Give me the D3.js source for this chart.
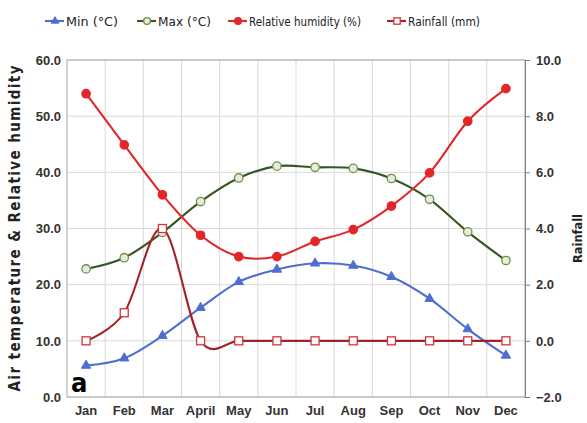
<!DOCTYPE html>
<html>
<head>
<meta charset="utf-8">
<script src="https://cdn.jsdelivr.net/npm/d3@7"></script>
<style>
    body { margin: 0; background: #fff; }
    svg { display: block; font-family: "Liberation Sans Narrow", "DejaVu Sans Condensed", "Liberation Sans", sans-serif; }
    .tick text { fill: #333; font-weight: bold; }
    .grid line { stroke: #d9d9d9; stroke-width: 1; }
</style>
</head>
<body>
<div id="chart"></div>
<script>
// values
let months = ["Jan", "Feb", "Mar", "April", "May", "Jun", "Jul", "Aug", "Sep", "Oct", "Nov", "Dec"];
let minTemp = [5.6, 6.9, 10.9, 15.9, 20.5, 22.7, 23.8, 23.4, 21.4, 17.5, 12.1, 7.4];
let maxTemp = [22.8, 24.8, 29.3, 34.8, 39.0, 41.1, 40.9, 40.7, 38.9, 35.2, 29.4, 24.3];
let humidity = [54.0, 44.9, 36.0, 28.8, 25.0, 25.0, 27.7, 29.8, 34.0, 39.9, 49.1, 54.9];
let rainfall = [0, 1.0, 4.0, 0, 0, 0, 0, 0, 0, 0, 0, 0];

let leftTicks = [0, 10, 20, 30, 40, 50, 60];
let rightTicks = [-2, 0, 2, 4, 6, 8, 10];

let WIDTH = 587, HEIGHT = 423;
let margin = { top: 60, right: 62, bottom: 26, left: 67 };
let innerW = WIDTH - margin.left - margin.right;
let innerH = HEIGHT - margin.top - margin.bottom;

let svg = d3.select("#chart").append("svg")
    .attr("width", WIDTH)
    .attr("height", HEIGHT);

let g = svg.append("g").attr("transform", `translate(${margin.left},${margin.top})`);

let x = d3.scaleBand().domain(months).range([0, innerW]);
let yLeft = d3.scaleLinear().domain([0, 60]).range([innerH, 0]);
let yRight = d3.scaleLinear().domain([-2, 10]).range([innerH, 0]);
let cx = m => x(m) + x.bandwidth() / 2;

// gridlines
let grid = g.append("g").attr("class", "grid");
grid.selectAll("line.h").data(leftTicks).join("line")
    .attr("x1", 0).attr("x2", innerW)
    .attr("y1", d => yLeft(d)).attr("y2", d => yLeft(d));
grid.selectAll("line.v").data(months.slice(1)).join("line")
    .attr("x1", d => x(d)).attr("x2", d => x(d))
    .attr("y1", 0).attr("y2", innerH);

// frame
g.append("rect")
    .attr("width", innerW).attr("height", innerH)
    .attr("fill", "none").attr("stroke", "#a6a6a6");

// axes
let leftAxis = g.append("g")
    .call(d3.axisLeft(yLeft).tickValues(leftTicks).tickFormat(d3.format(".1f")).tickSize(0).tickPadding(6));
leftAxis.select(".domain").remove();
leftAxis.selectAll("text").attr("font-size", 13);

let rightAxis = g.append("g").attr("transform", `translate(${innerW},0)`)
    .call(d3.axisRight(yRight).tickValues(rightTicks).tickFormat(d3.format(".1f")).tickSize(5).tickPadding(6));
rightAxis.select(".domain").attr("stroke", "#7f7f7f");
rightAxis.selectAll(".tick line").attr("stroke", "#7f7f7f");
rightAxis.selectAll("text").attr("font-size", 13);

let bottomAxis = g.append("g").attr("transform", `translate(0,${innerH})`)
    .call(d3.axisBottom(x).tickSize(0).tickPadding(9));
bottomAxis.select(".domain").remove();
bottomAxis.selectAll("text").attr("font-size", 13);

// axis titles
svg.append("text")
    .attr("transform", `translate(20,${margin.top + innerH / 2}) rotate(-90)`)
    .attr("text-anchor", "middle")
    .attr("font-size", 15).attr("font-weight", "bold").attr("fill", "#222")
    .attr("textLength", 326).attr("lengthAdjust", "spacing")
    .text("Air temperature & Relative humidity");

svg.append("text")
    .attr("transform", `translate(582,${margin.top + innerH / 2 + 10}) rotate(-90)`)
    .attr("text-anchor", "middle")
    .attr("font-size", 13).attr("font-weight", "bold").attr("fill", "#222")
    .attr("textLength", 49).attr("lengthAdjust", "spacingAndGlyphs")
    .text("Rainfall");

// panel letter
g.append("text")
    .attr("x", 4).attr("y", innerH - 5)
    .attr("font-size", 27).attr("font-weight", "bold").attr("fill", "#000")
    .text("a");

// series
let series = [
    { name: "Min (°C)", values: minTemp, scale: yLeft, color: "#4f6fd0", marker: "triangle", fill: "#4f6fd0", textW: 52 },
    { name: "Max (°C)", values: maxTemp, scale: yLeft, color: "#375623", marker: "circle", fill: "#e6eedb", mstroke: "#6d8f4a", textW: 53 },
    { name: "Relative humidity (%)", values: humidity, scale: yLeft, color: "#e3262a", marker: "circle", fill: "#e3262a", textW: 112 },
    { name: "Rainfall (mm)", values: rainfall, scale: yRight, color: "#a3222a", marker: "square", fill: "#fff", mstroke: "#d0343a", textW: 72 }
];

function drawMarker(sel, s, k = 1) {
    if (s.marker === "triangle") {
        sel.append("path").attr("d", d3.symbol(d3.symbolTriangle, 38 * k * k)())
            .attr("fill", s.fill).attr("stroke", s.color);
    } else if (s.marker === "circle") {
        sel.append("circle").attr("r", 4.2 * k)
            .attr("fill", s.fill).attr("stroke", s.mstroke || s.color).attr("stroke-width", 1.3);
    } else {
        sel.append("rect").attr("x", -4 * k).attr("y", -4 * k).attr("width", 8 * k).attr("height", 8 * k)
            .attr("fill", s.fill).attr("stroke", s.mstroke || s.color).attr("stroke-width", 1.3);
    }
}

let plot = g.append("g");
series.forEach(s => {
    let line = d3.line()
        .x((d, i) => cx(months[i]))
        .y(d => s.scale(d))
        .curve(d3.curveCardinal.tension(0));
    plot.append("path")
        .datum(s.values)
        .attr("d", line)
        .attr("fill", "none")
        .attr("stroke", s.color)
        .attr("stroke-width", 2.1);
    s.values.forEach((v, i) => {
        let m = plot.append("g").attr("transform", `translate(${cx(months[i])},${s.scale(v)})`);
        drawMarker(m, s);
    });
});

// legend
let legendX = [45, 137, 228, 387];
let legend = svg.append("g").attr("transform", "translate(0,21)");
series.forEach((s, i) => {
    let item = legend.append("g").attr("transform", `translate(${legendX[i]},0)`);
    item.append("line").attr("x1", 0).attr("x2", 19).attr("stroke", s.color).attr("stroke-width", 2.1);
    let mk = item.append("g").attr("transform", "translate(10,0)");
    drawMarker(mk, s, 0.8);
    item.append("text")
        .attr("x", 21).attr("dy", "0.35em")
        .attr("font-size", 13).attr("fill", "#222")
        .attr("textLength", s.textW).attr("lengthAdjust", "spacingAndGlyphs")
        .text(s.name);
});
</script>
</body>
</html>
